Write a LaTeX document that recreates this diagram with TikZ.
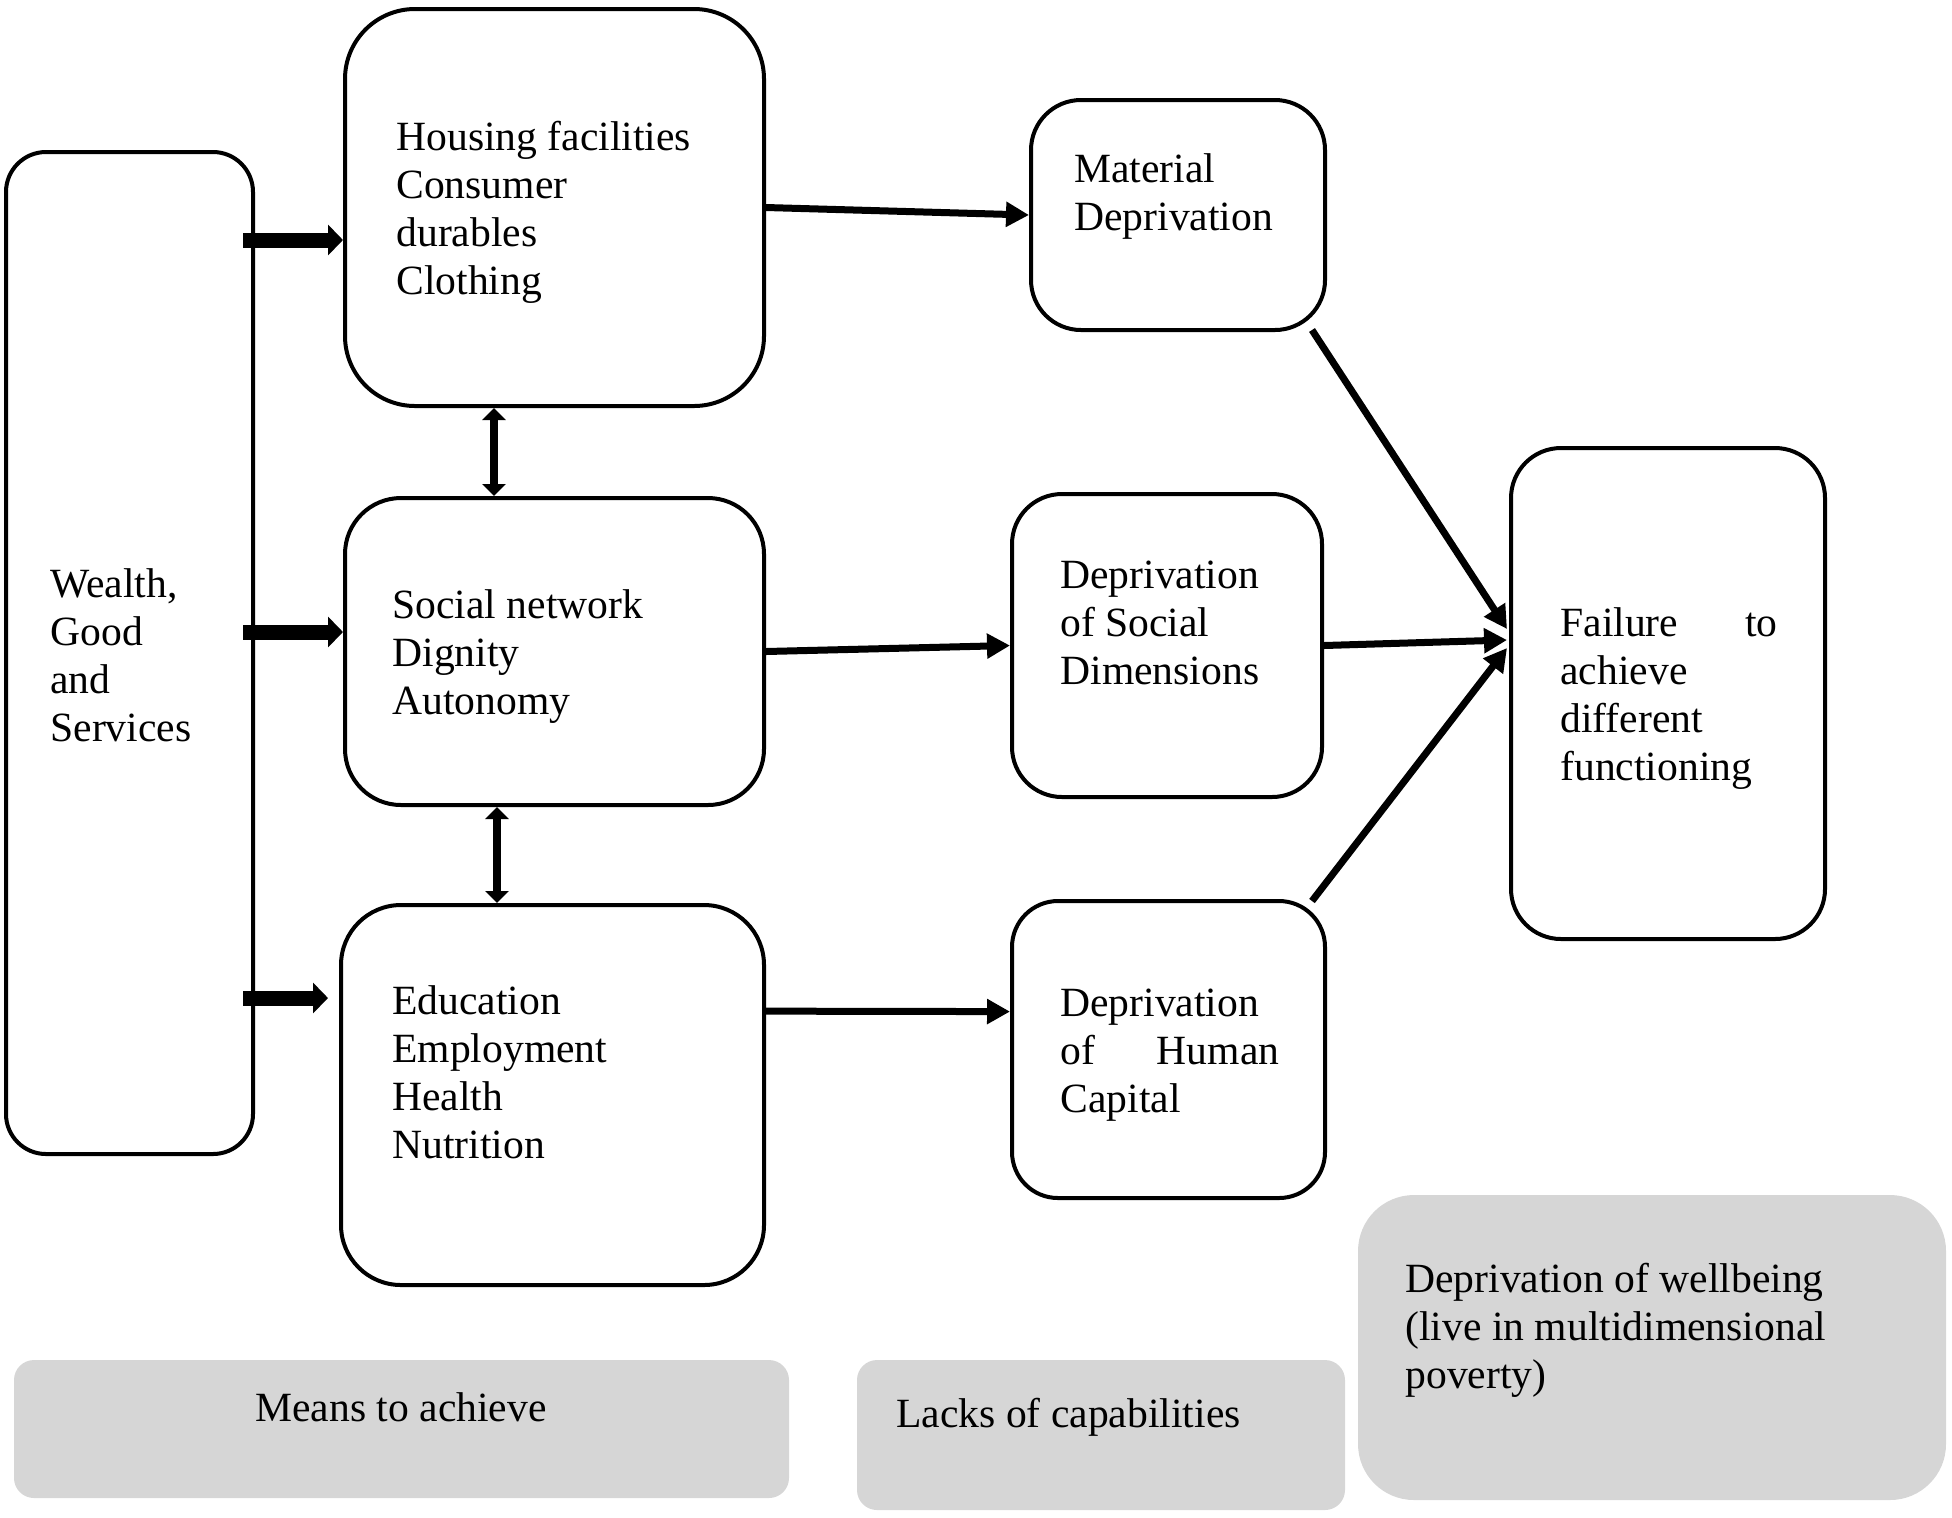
\documentclass[tikz,border=0pt]{standalone}
\usepackage{fontspec}
\setmainfont{Liberation Serif}
\usetikzlibrary{arrows.meta,fit,calc}
\definecolor{boxgray}{HTML}{D6D6D6}
\begin{document}
\begin{tikzpicture}[x=0.5pt,y=-0.5pt,
  rbox/.style={draw, line width=2pt, rounded corners=#1, inner sep=0pt},
  rbox/.default=25pt,
  gbox/.style={fill=boxgray, draw=none, rounded corners=#1, inner sep=0pt},
  gbox/.default=10pt,
  txt/.style={font=\fontsize{20.8}{24}\selectfont, align=left, inner sep=0pt},
  conn/.style={line width=3.5pt, -{Triangle[length=11.5pt,width=12pt]}},
  fat/.style={line width=7.5pt, -{Triangle[length=7.5pt,width=15pt]}},
  dbl/.style={line width=4pt, {Triangle[length=6pt,width=11.5pt]}-{Triangle[length=6pt,width=11.5pt]}}
]
\useasboundingbox (0,0) rectangle (1952,1517);

% gray label boxes
\node[gbox=10pt, fit={(14,1360) (789,1498)}] (means) {};
\node[gbox=10pt, fit={(857,1360) (1345,1510)}] (lacks) {};
\node[gbox=28pt, fit={(1358,1195) (1946,1500)}] (wellb) {};

% main boxes
\node[rbox=20pt, fit={(6,152) (253,1154)}] (wealth) {};
\node[rbox=35pt, fit={(345,9) (764,406)}] (hous) {};
\node[rbox=28pt, fit={(345,498) (764,805)}] (soc) {};
\node[rbox=30pt, fit={(341,905) (764,1285)}] (edu) {};
\node[rbox=25pt, fit={(1031,100) (1325,330)}] (mat) {};
\node[rbox=25pt, fit={(1012,494) (1322,797)}] (socdim) {};
\node[rbox=23pt, fit={(1012,901) (1325,1198)}] (hc) {};
\node[rbox=25pt, fit={(1511,448) (1825,939)}] (fail) {};

% texts
\node[txt, anchor=west] (twealth) at (50,655) {Wealth,\\Good\\and\\Services};
\node[txt, anchor=west] (thous) at (396,212.5) {Housing facilities\\Consumer\\durables\\Clothing};
\node[txt, anchor=west] (tmat) at (1074,196) {Material\\Deprivation};
\node[txt, anchor=west] (tsoc) at (392,656.5) {Social network\\Dignity\\Autonomy};
\node[txt, anchor=west] (tsocdim) at (1060,623) {Deprivation\\of Social\\Dimensions};
\node[txt, anchor=west] (tedu) at (392,1072) {Education\\Employment\\Health\\Nutrition};
\node[txt, anchor=west] (thc) at (1060,1055) {Deprivation\\\hbox to 109.5pt{of\hfill Human}\\Capital};
\node[txt, anchor=west] (tfail) at (1560,698.5) {\hbox to 108.5pt{Failure\hfill to}\\achieve\\different\\functioning};
\node[txt] (tmeans) at (401,1407) {Means to achieve};
\node[txt, anchor=west] (tlacks) at (896,1417) {Lacks of capabilities};
\node[txt, anchor=west] (twellb) at (1405,1330) {Deprivation of wellbeing\\(live in multidimensional\\poverty)};

% fat arrows from wealth
\coordinate (f1) at (243,240);
\coordinate (f2) at (243,632);
\coordinate (f3) at (243,998);
\draw[fat] (f1) -- (f1 -| hous.west);
\draw[fat] (f2) -- (f2 -| soc.west);
\draw[fat, shorten >=5.5pt] (f3) -- (f3 -| edu.west);

% double arrows
\coordinate (d1) at (494,0);
\coordinate (d2) at (497,0);
\draw[dbl] (d1 |- hous.south) -- (d1 |- soc.north);
\draw[dbl] (d2 |- soc.south) -- (d2 |- edu.north);

% thin connectors
\draw[conn] (hous.east) -- (mat.west);
\draw[conn] (soc.east) -- (socdim.west);
\draw[conn] ($(edu.north east)!0.2816!(edu.south east)$) -- ($(hc.north west)!0.374!(hc.south west)$);
\draw[conn] ($(mat.south east)+(-15,-2)$) -- ($(fail.west)+(-2,-64.5)$);
\draw[conn] (socdim.east) -- ($(fail.west)+(-2,-53.5)$);
\draw[conn] ($(hc.north east)+(-15,2)$) -- ($(fail.west)+(-2,-45.5)$);
\end{tikzpicture}
\end{document}
